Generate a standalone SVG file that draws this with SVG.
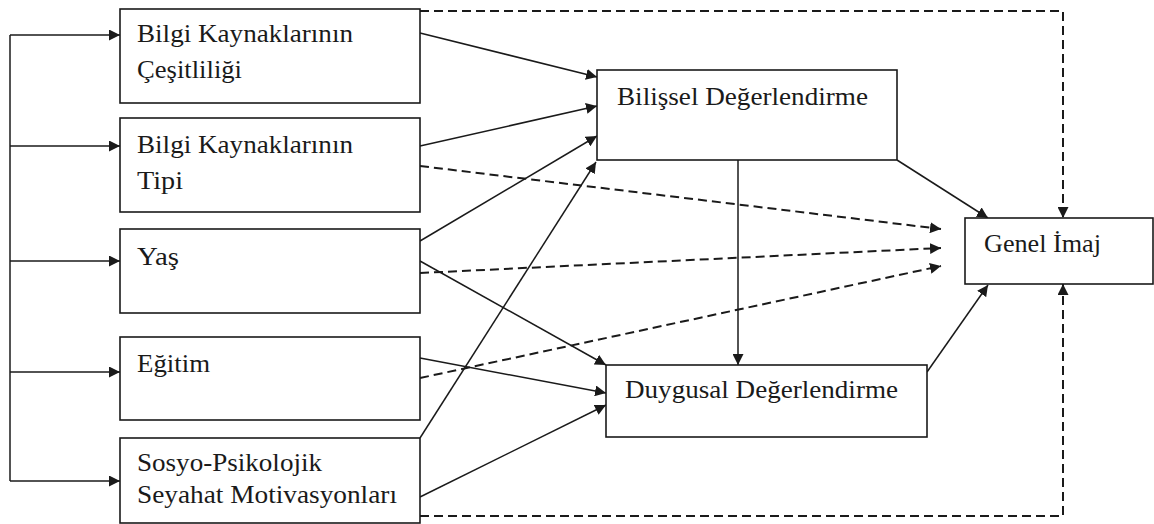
<svg xmlns="http://www.w3.org/2000/svg" width="1154" height="524" viewBox="0 0 1154 524">
  <style>
    .box { fill: #ffffff; stroke: #1a1a1a; stroke-width: 1.6; }
    .solid { fill: none; stroke: #1a1a1a; stroke-width: 1.5; }
    .dash { fill: none; stroke: #1a1a1a; stroke-width: 2; stroke-dasharray: 9 5; }
  </style>
  <defs>
    <marker id="arrow" viewBox="0 0 10 10" refX="10" refY="5" markerWidth="11" markerHeight="11" markerUnits="userSpaceOnUse" orient="auto">
      <path d="M0,0 L10,5 L0,10 Z" fill="#1a1a1a"/>
    </marker>
  </defs>
  <rect width="1154" height="524" fill="#ffffff"/>

  <!-- connectors -->
  <g id="connectors">
    <!-- left distribution bus -->
    <path class="solid" d="M10,35 V481"/>
    <path class="solid" d="M10,35 H120" marker-end="url(#arrow)"/>
    <path class="solid" d="M10,146 H120" marker-end="url(#arrow)"/>
    <path class="solid" d="M10,261 H120" marker-end="url(#arrow)"/>
    <path class="solid" d="M10,372 H120" marker-end="url(#arrow)"/>
    <path class="solid" d="M10,481 H120" marker-end="url(#arrow)"/>

    <!-- into Bilişsel Değerlendirme -->
    <path class="solid" d="M420,33 L597,77" marker-end="url(#arrow)"/>
    <path class="solid" d="M420,146 L597,106" marker-end="url(#arrow)"/>
    <path class="solid" d="M420,241 L597,136" marker-end="url(#arrow)"/>
    <path class="solid" d="M420,438 L596,162" marker-end="url(#arrow)"/>

    <!-- into Duygusal Değerlendirme -->
    <path class="solid" d="M420,261 L606,365" marker-end="url(#arrow)"/>
    <path class="solid" d="M420,358 L606,393" marker-end="url(#arrow)"/>
    <path class="solid" d="M420,497 L606,405" marker-end="url(#arrow)"/>
    <path class="solid" d="M738,160 V365" marker-end="url(#arrow)"/>

    <!-- into Genel İmaj -->
    <path class="solid" d="M897,160 L988,218" marker-end="url(#arrow)"/>
    <path class="solid" d="M927,372 L988,285" marker-end="url(#arrow)"/>

    <!-- direct (dashed) paths -->
    <path class="dash" d="M420,166 L941,229" marker-end="url(#arrow)"/>
    <path class="dash" d="M420,273 L941,248" marker-end="url(#arrow)"/>
    <path class="dash" d="M420,378 L941,266" marker-end="url(#arrow)"/>
    <path class="dash" d="M420,11 H1063 V218" marker-end="url(#arrow)"/>
    <path class="dash" d="M420,516 H1063 V284" marker-end="url(#arrow)"/>
  </g>

  <!-- source factors -->
  <g id="node-cesitlilik">
    <rect class="box" x="120" y="9" width="300" height="94"/>
    <text x="137" y="42" style="font-family:'Liberation Serif',serif" font-size="25" fill="#1a1a1a" textLength="216" lengthAdjust="spacingAndGlyphs">Bilgi Kaynaklarının</text>
    <text x="137" y="78" style="font-family:'Liberation Serif',serif" font-size="25" fill="#1a1a1a" textLength="105" lengthAdjust="spacingAndGlyphs">Çeşitliliği</text>
  </g>
  <g id="node-tip">
    <rect class="box" x="120" y="118" width="300" height="94"/>
    <text x="137" y="153" style="font-family:'Liberation Serif',serif" font-size="25" fill="#1a1a1a" textLength="216" lengthAdjust="spacingAndGlyphs">Bilgi Kaynaklarının</text>
    <text x="137" y="189" style="font-family:'Liberation Serif',serif" font-size="25" fill="#1a1a1a" textLength="46" lengthAdjust="spacingAndGlyphs">Tipi</text>
  </g>
  <g id="node-yas">
    <rect class="box" x="120" y="229" width="300" height="84"/>
    <text x="137" y="265" style="font-family:'Liberation Serif',serif" font-size="25" fill="#1a1a1a" textLength="42" lengthAdjust="spacingAndGlyphs">Yaş</text>
  </g>
  <g id="node-egitim">
    <rect class="box" x="120" y="337" width="300" height="83"/>
    <text x="137" y="372" style="font-family:'Liberation Serif',serif" font-size="25" fill="#1a1a1a" textLength="73" lengthAdjust="spacingAndGlyphs">Eğitim</text>
  </g>
  <g id="node-motivasyon">
    <rect class="box" x="120" y="438" width="300" height="85"/>
    <text x="137" y="471" style="font-family:'Liberation Serif',serif" font-size="25" fill="#1a1a1a" textLength="185" lengthAdjust="spacingAndGlyphs">Sosyo-Psikolojik</text>
    <text x="137" y="503" style="font-family:'Liberation Serif',serif" font-size="25" fill="#1a1a1a" textLength="260" lengthAdjust="spacingAndGlyphs">Seyahat Motivasyonları</text>
  </g>

  <!-- evaluations -->
  <g id="node-bilissel">
    <rect class="box" x="597" y="70" width="300" height="90"/>
    <text x="617" y="105" style="font-family:'Liberation Serif',serif" font-size="25" fill="#1a1a1a" textLength="251" lengthAdjust="spacingAndGlyphs">Bilişsel Değerlendirme</text>
  </g>
  <g id="node-duygusal">
    <rect class="box" x="606" y="365" width="321" height="72"/>
    <text x="625" y="398" style="font-family:'Liberation Serif',serif" font-size="25" fill="#1a1a1a" textLength="273" lengthAdjust="spacingAndGlyphs">Duygusal Değerlendirme</text>
  </g>

  <!-- outcome -->
  <g id="node-genel-imaj">
    <rect class="box" x="965" y="218" width="188" height="66"/>
    <text x="984" y="252" style="font-family:'Liberation Serif',serif" font-size="25" fill="#1a1a1a" textLength="117" lengthAdjust="spacingAndGlyphs">Genel İmaj</text>
  </g>
</svg>
